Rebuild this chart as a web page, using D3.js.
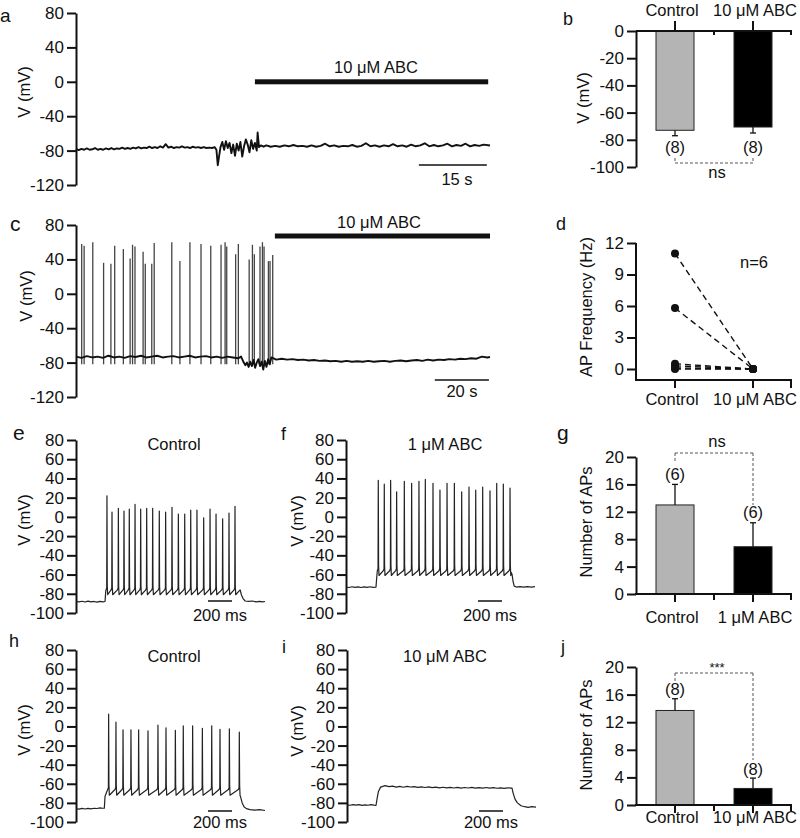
<!DOCTYPE html>
<html><head><meta charset="utf-8">
<script src="https://cdn.jsdelivr.net/npm/d3@7"></script>
<style>
body{margin:0;background:#fff}
svg{display:block}
text{font-family:"Liberation Sans",Arial,Helvetica,sans-serif;fill:#111}
</style>
</head><body>
<svg id="fig" width="800" height="838"></svg>
<script>
// ---------------- DATA ----------------
// Panel a: membrane potential (t in s, V in mV)
const aTrace = [[0,-78],[0.6,-79.5],[1.2,-78],[1.8,-79],[2.4,-77.5],[3,-79],[3.6,-78.5],[4.2,-77],[4.8,-79],[5.4,-78],[6,-79],[6.6,-77.5],[7.2,-78.5],[7.8,-77],[8.4,-78.5],[9,-77.5],[9.6,-78],[10.2,-76.5],[10.8,-78],[11.4,-77],[12,-78],[12.6,-76.5],[13.2,-77.5],[13.8,-76],[14.4,-77.5],[15,-76.5],[15.6,-77],[16.2,-75.5],[16.8,-77],[17.4,-76],[18,-77],[18.6,-75],[19.2,-76.5],[19.8,-72.5],[20.4,-76.5],[21,-75.5],[21.6,-77],[22.2,-76],[22.8,-76.5],[23.4,-75],[24,-76.5],[24.6,-76],[25.2,-77],[25.8,-75.5],[26.4,-76.5],[27,-76],[27.6,-77],[28.2,-76],[28.8,-77],[29.4,-76.5],[30,-77],[30.6,-76],[31,-79],[31.3,-97],[31.6,-86],[31.9,-76],[32.3,-70],[32.7,-79],[33.1,-69],[33.5,-77],[33.9,-71],[34.3,-83],[34.7,-73],[35.1,-86],[35.5,-72],[35.9,-80],[36.3,-70],[36.7,-87],[37.1,-75],[37.5,-67],[37.9,-73],[38.3,-82],[38.7,-68],[39.1,-78],[39.5,-71],[39.9,-80],[40.1,-59],[40.4,-76],[40.8,-74],[41.4,-75.5],[42,-74],[43,-75.5],[44,-74.5],[45,-75.5],[46,-74],[47,-75],[48,-73.5],[49,-75],[50,-74.5],[51,-75.5],[52,-74],[53,-75.5],[54,-74.5],[55,-72],[56,-75],[57,-74],[58,-75.5],[59,-74.5],[60,-75],[61,-73.5],[62,-75.5],[63,-74.5],[64,-71.5],[65,-75],[66,-74],[67,-75.5],[68,-74],[69,-75],[70,-72.5],[71,-75],[72,-74],[73,-75.5],[74,-73],[75,-75],[76,-74],[77,-71.5],[78,-75],[79,-73.5],[80,-75],[81,-74],[82,-72],[83,-75],[84,-73.5],[85,-74.5],[86,-72],[87,-75],[88,-73.5],[89,-74.5],[90,-73],[91.4,-74]];
const aDrug = [39.5, 91.0];
const aScaleBar = [75.7, 90.7];

// Panel c: baseline (t in s) and spikes
const cBase = [[0,-73],[2,-74.5],[4,-72.5],[6,-74],[8,-73],[10,-74.5],[12,-72],[14,-74],[16,-73],[18,-74.5],[20,-72.5],[22,-73.5],[24,-72],[26,-74],[28,-73],[30,-72],[32,-74],[34,-73],[36,-72.5],[38,-74],[40,-73],[42,-72],[44,-74],[46,-73],[48,-72.5],[50,-74],[52,-73],[54,-74.5],[56,-73],[58,-74],[60,-75],[61,-73],[62,-80],[62.6,-83],[63.2,-80],[63.8,-85],[64.4,-79],[65,-84],[65.6,-77],[66.2,-86],[66.8,-80],[67.4,-76],[68,-84],[68.6,-79],[69.2,-88],[69.8,-78],[70.4,-85],[71,-76],[71.6,-82],[72.2,-74],[73,-75],[74,-76.5],[76,-75.5],[78,-76.5],[80,-76],[82,-77],[84,-76.5],[86,-77.5],[88,-77],[90,-78],[92,-77.5],[94,-78.5],[96,-78],[98,-79],[100,-78],[102,-79],[104,-78.5],[106,-79],[108,-78],[110,-79],[112,-78.5],[114,-78],[116,-79],[118,-78],[120,-77.5],[122,-78.5],[124,-77.5],[126,-77],[128,-78],[130,-76.5],[132,-77.5],[134,-76.5],[136,-77],[138,-76],[140,-76.5],[142,-75.5],[144,-76],[146,-75],[148,-75.5],[150,-73],[152,-74],[153,-73.5]];
const cSpikeT = [2.1,3.0,6.2,10.2,12.9,14.3,17.5,20.0,20.9,21.8,24.8,25.6,28.0,28.9,35.4,38.4,42.1,46.2,49.8,53.6,55.1,55.7,59.0,60.0,64.0,65.2,65.9,68.0,68.9,69.5,71.1,71.7,72.7];
const cSpikeV = [58,56,60,36,35,56,52,41,57,55,49,35,35,59,60,38,60,58,56,57,60,55,46,58,40,57,46,55,60,55,38,38,45];
const cTrough = -82;
const cDrug = [73.5, 153];
const cScaleBar = [132.6, 152.6];

// Panel e: Control evoked firing (t in ms)
const ePre = [[0,-88],[25,-88.5],[50,-87.8],[75,-88.6],[100,-87.7],[125,-88.4],[150,-88],[175,-88.7],[200,-87.9],[225,-88.5],[242,-88]];
const eStepOn = 242;
const eSpikeT = [258,300,353,400,444,492,539,589,639,694,747,800,853,906,956,1008,1064,1117,1167,1222,1275,1325];
const eSpikeV = [22,5,9,6,8,13,8,9,9,6,5,10,3,3,7,7,-1,8,3,-2,4,11];
const eLevels = {onV:-77, thr:-74, sh:-72, tr:-81};
const ePost = [[1360,-77],[1368,-76],[1378,-81],[1392,-85],[1410,-87.5],[1440,-88],[1470,-87.5],[1500,-88.5],[1530,-88],[1555,-88.5],[1575,-88]];

// Panel f: 1 uM ABC
const fPre = [[0,-73],[25,-73.5],[50,-72.7],[75,-73.4],[100,-72.8],[125,-73.5],[150,-72.9],[175,-73.4],[200,-72.7],[225,-73.3],[250,-73]];
const fStepOn = 250;
const fSpikeT = [269,319,372,422,486,547,608,661,725,783,842,903,964,1025,1081,1139,1200,1256,1311,1367];
const fSpikeV = [38,34,38,26,37,35,37,39,35,28,35,35,26,31,28,31,27,35,34,30];
const fLevels = {onV:-63, thr:-54, sh:-50, tr:-61};
const fPost = [[1378,-58],[1384,-60],[1392,-67],[1402,-72],[1420,-73],[1450,-72.5],[1480,-73],[1510,-72.5],[1545,-73],[1575,-72.5]];

// Panel h: Control evoked firing
const hPre = [[0,-86],[25,-86.5],[50,-85.8],[75,-86.4],[100,-85.7],[125,-86.2],[150,-85.6],[175,-85.9],[200,-85.3],[220,-85.6],[236,-85.5]];
const hStepOn = 236;
const hSpikeT = [272,333,392,458,522,600,683,750,828,894,972,1053,1131,1200,1278,1361];
const hSpikeV = [13,4.5,-3.5,-3.5,-3.5,-4.5,1.5,-1.5,-4,0.5,0.5,-2,0.5,-3,-2.5,-6];
const hLevels = {onV:-73, thr:-64, sh:-61, tr:-72};
const hPost = [[1372,-74],[1385,-80],[1400,-84],[1420,-86],[1450,-87],[1490,-87.5],[1530,-87],[1575,-88]];

// Panel i: 10 uM ABC (no spikes)
const iTrace = [[0,-82],[25,-82.5],[50,-81.8],[75,-82.4],[100,-81.9],[125,-82.6],[150,-82],[175,-82.5],[200,-81.8],[225,-82.4],[242,-82.5],[250,-76],[262,-68],[280,-63.5],[317,-62],[350,-63],[380,-62.5],[410,-63.5],[440,-62.8],[470,-63.6],[500,-62.7],[530,-63.4],[560,-63],[590,-63.8],[620,-63.2],[650,-63.9],[680,-63.3],[710,-64],[740,-63.5],[770,-64.3],[800,-63.6],[830,-64.2],[860,-63.7],[890,-64.4],[920,-63.8],[950,-64.5],[980,-63.9],[1010,-64.4],[1040,-63.8],[1070,-64.6],[1100,-64],[1130,-64.5],[1160,-63.9],[1190,-64.6],[1220,-64.1],[1250,-64.7],[1280,-64.2],[1310,-64.8],[1340,-64.3],[1375,-64.5],[1385,-70],[1400,-76],[1420,-80],[1450,-83],[1480,-84],[1510,-84.6],[1540,-84],[1575,-84.5]];
const msScaleBar = [1100, 1300];

// Bar panels
const bCats = ["Control", "10 \u03bcM ABC"];
const bMeans = [-73, -70.6];
const bErrEnd = [-77, -75];
const bN = ["(8)", "(8)"];

const dCats = ["Control", "10 \u03bcM ABC"];
const dControl = [11, 5.8, 0.5, 0.3, 0.1, 0];
const dDrug = [0, 0, 0, 0, 0, 0];

const gCats = ["Control", "1 \u03bcM ABC"];
const gMeans = [13, 6.9];
const gErrEnd = [16, 10.4];
const gN = ["(6)", "(6)"];

const jCats = ["Control", "10 \u03bcM ABC"];
const jMeans = [13.7, 2.4];
const jErrEnd = [15.4, 3.9];
const jN = ["(8)", "(8)"];

const traceTicksA = [-120,-80,-40,0,40,80];
const traceTicksE = [-100,-80,-60,-40,-20,0,20,40,60,80];
const bTicks = [-100,-80,-60,-40,-20,0];
const dTicks = [0,3,6,9,12];
const gTicks = [0,4,8,12,16,20];

// ---------------- DRAWING ----------------
const svg = d3.select("#fig");
const FONT = '"Liberation Sans", Arial, Helvetica, sans-serif';
const INK = "#111";

function txt(x, y, s, size, anchor) {
  return svg.append("text").attr("x", x).attr("y", y).text(s)
    .attr("font-size", size || 16.5).attr("text-anchor", anchor || "middle");
}
function vlabel(cx, cy, s) {
  svg.append("text").attr("transform", `translate(${cx},${cy}) rotate(-90)`)
    .attr("text-anchor", "middle").attr("dy", "0.35em").attr("font-size", 16.5).text(s);
}
function yAxis(x, scale, ticks, noDomain) {
  const g = svg.append("g").attr("transform", `translate(${x},0)`)
    .call(d3.axisLeft(scale).tickValues(ticks).tickSize(9).tickSizeOuter(0).tickPadding(3).tickFormat(d => String(d)));
  g.attr("font-family", FONT).attr("font-size", 17);
  g.select(".domain").attr("stroke-width", 2).attr("stroke", INK);
  if (noDomain) g.select(".domain").remove();
  g.selectAll(".tick line").attr("stroke-width", 2).attr("stroke", INK);
  g.selectAll(".tick text").attr("fill", INK);
  return g;
}
function line(x1, y1, x2, y2, w, color, dash) {
  const l = svg.append("line").attr("x1", x1).attr("y1", y1).attr("x2", x2).attr("y2", y2)
    .attr("stroke", color || INK).attr("stroke-width", w || 1.5);
  if (dash) l.attr("stroke-dasharray", dash);
  return l;
}
function path(pts, xs, ys, w, color) {
  svg.append("path").attr("d", d3.line().x(d => xs(d[0])).y(d => ys(d[1]))(pts))
    .attr("fill", "none").attr("stroke", color || INK).attr("stroke-width", w)
    .attr("stroke-linejoin", "round");
}
function evoked(pre, on, T, V, L, post) {
  const pts = pre.slice();
  pts.push([on + 6, L.onV]);
  T.forEach((t, i) => {
    pts.push([t - 8, L.thr - 2]);
    pts.push([t - 2, L.thr]);
    pts.push([t, V[i]]);
    pts.push([t + 2.5, L.sh]);
    pts.push([t + 6, L.tr]);
  });
  return pts.concat(post);
}

// ---- Panel a ----
{
  const x = d3.scaleLinear().domain([0, 91.4]).range([76, 490]);
  const y = d3.scaleLinear().domain([-120, 80]).range([185, 13]);
  yAxis(76, y, traceTicksA);
  path(aTrace, x, y, 1.9);
  svg.append("rect").attr("x", x(aDrug[0])).attr("y", y(0) - 2.5).attr("width", x(aDrug[1]) - x(aDrug[0])).attr("height", 5).attr("fill", INK);
  txt(376, 73, "10 \u03bcM ABC");
  line(x(aScaleBar[0]), 165, x(aScaleBar[1]), 165, 1.5);
  txt(457, 185, "15 s");
  vlabel(24, 92, "V (mV)");
  txt(0, 22, "a", 19, "start");
}

// ---- Panel c ----
{
  const x = d3.scaleLinear().domain([0, 153]).range([76, 490]);
  const y = d3.scaleLinear().domain([-120, 80]).range([397, 225]);
  yAxis(76, y, traceTicksA);
  cSpikeT.forEach((t, i) => line(x(t), y(cTrough), x(t), y(cSpikeV[i]), 1.3, "#444"));
  path(cBase, x, y, 1.9);
  svg.append("rect").attr("x", x(cDrug[0])).attr("y", 236 - 2.5).attr("width", x(cDrug[1]) - x(cDrug[0])).attr("height", 5).attr("fill", INK);
  txt(379, 228, "10 \u03bcM ABC");
  line(x(cScaleBar[0]), 380, x(cScaleBar[1]), 380, 1.5);
  txt(462, 397, "20 s");
  vlabel(26, 296, "V (mV)");
  txt(10, 231, "c", 21, "start");
}

// ---- Evoked panels e, f, h, i ----
function evokedPanel(ax, top, bottom, pts, title, titleX, titleY, sbY, sbTextY, labX, labY) {
  const x = d3.scaleLinear().domain([0, 1575]).range([ax, ax + 189]);
  const y = d3.scaleLinear().domain([-100, 80]).range([bottom, top]);
  yAxis(ax, y, traceTicksE);
  path(pts, x, y, 1.2, "#222");
  txt(titleX, titleY, title);
  line(x(msScaleBar[0]), sbY, x(msScaleBar[1]), sbY, 1.5);
  txt((x(msScaleBar[0]) + x(msScaleBar[1])) / 2, sbTextY, "200 ms");
  vlabel(labX, labY, "V (mV)");
}
evokedPanel(76, 440, 613, evoked(ePre, eStepOn, eSpikeT, eSpikeV, eLevels, ePost), "Control", 174, 450, 601, 621, 24, 520);
evokedPanel(346, 440, 613, evoked(fPre, fStepOn, fSpikeT, fSpikeV, fLevels, fPost), "1 \u03bcM ABC", 445, 450, 601, 621, 297, 521);
evokedPanel(76, 650, 822, evoked(hPre, hStepOn, hSpikeT, hSpikeV, hLevels, hPost), "Control", 174, 662, 811, 828, 24, 730);
evokedPanel(347, 650, 822, iTrace, "10 \u03bcM ABC", 445, 662, 811, 828, 297, 731);
txt(13, 440, "e", 21, "start");
txt(281, 440, "f", 18, "start");
txt(9, 647, "h", 18, "start");
txt(282, 653, "i", 18, "start");

// ---- Panel b ----
{
  const x = d3.scalePoint().domain(bCats).range([675, 753]);
  const y = d3.scaleLinear().domain([-100, 0]).range([167, 31]);
  const bw = 38;
  const fills = ["#b4b4b4", "#000"];
  bCats.forEach((c, i) => {
    svg.append("rect").attr("x", x(c) - bw / 2).attr("y", y(0)).attr("width", bw).attr("height", y(bMeans[i]) - y(0))
      .attr("fill", fills[i]).attr("stroke", "#222").attr("stroke-width", 1);
    line(x(c), y(bMeans[i]), x(c), y(bErrEnd[i]), 1.3);
    line(x(c) - 3, y(bErrEnd[i]), x(c) + 3, y(bErrEnd[i]), 1.3);
    txt(x(c), 153, bN[i]);
    line(x(c), y(0), x(c), y(0) - 10, 2);
    txt(x(c) + (i ? 2 : -3), 16, c);
  });
  yAxis(636, y, bTicks);
  line(636, y(0), 792, y(0), 2);
  line(714, y(0), 714, y(0) + 4, 2);
  line(791, y(0), 791, y(0) + 4, 2);
  // ns bracket
  line(x(bCats[0]), 163, x(bCats[1]), 163, 1, "#555", "3,2");
  line(x(bCats[0]), 158, x(bCats[0]), 163, 1, "#555", "3,2");
  line(x(bCats[1]), 158, x(bCats[1]), 163, 1, "#555", "3,2");
  txt(717, 178, "ns");
  vlabel(583, 98, "V (mV)");
  txt(563, 25, "b", 18, "start");
}

// ---- Panel d ----
{
  const x = d3.scalePoint().domain(dCats).range([675, 753]);
  const y = d3.scaleLinear().domain([0, 12]).range([369, 243]);
  yAxis(636, y, dTicks, true);
  line(636, 243, 636, 381, 2);
  line(635, 380, 792, 380, 2);
  [x(dCats[0]), x(dCats[1]), 791].forEach(p => line(p, 380, p, 388, 2));
  dControl.forEach((v, i) => {
    line(x(dCats[0]), y(v), x(dCats[1]), y(dDrug[i]), 1.4, "#111", "6,4");
  });
  dControl.forEach(v => svg.append("circle").attr("cx", x(dCats[0])).attr("cy", y(v)).attr("r", 4).attr("fill", INK));
  dDrug.forEach(v => svg.append("circle").attr("cx", x(dCats[1])).attr("cy", y(v)).attr("r", 4).attr("fill", INK));
  dCats.forEach((c, i) => txt(x(c) + (i ? 2 : -3), 405, c));
  txt(740, 268, "n=6", 16.5, "start");
  vlabel(586, 307, "AP Frequency (Hz)");
  txt(556, 230, "d", 18, "start");
}

// ---- Panels g, j ----
function countPanel(cats, means, errs, ns, y0, y20, nY, brY, brL, brR, sigText, sigY, catY, labY, letter, letY, letSize) {
  const x = d3.scalePoint().domain(cats).range([675, 753]);
  const y = d3.scaleLinear().domain([0, 20]).range([y0, y20]);
  const bw = 38;
  const fills = ["#b4b4b4", "#000"];
  cats.forEach((c, i) => {
    svg.append("rect").attr("x", x(c) - bw / 2).attr("y", y(means[i])).attr("width", bw).attr("height", y(0) - y(means[i]))
      .attr("fill", fills[i]).attr("stroke", "#222").attr("stroke-width", 1);
    line(x(c), y(means[i]), x(c), y(errs[i]), 1.3);
    line(x(c) - 3, y(errs[i]), x(c) + 3, y(errs[i]), 1.3);
    txt(x(c), nY[i], ns[i]);
    line(x(c), y(0), x(c), y(0) + 8, 2);
    txt(x(c) + (i ? 2 : -3), catY, c);
  });
  yAxis(636, y, gTicks);
  line(635, y(0), 792, y(0), 2);
  line(714, y(0), 714, y(0) + 6, 2);
  line(791, y(0), 791, y(0) + 6, 2);
  line(x(cats[0]), brY, x(cats[1]), brY, 1, "#555", "3,2");
  line(x(cats[0]), brY, x(cats[0]), brL, 1, "#555", "3,2");
  line(x(cats[1]), brY, x(cats[1]), brR, 1, "#555", "3,2");
  txt(717, sigY, sigText, sigText === "ns" ? 16.5 : 13);
  vlabel(586, labY, "Number of APs");
  txt(letter === "g" ? 557 : 561, letY, letter, letSize, "start");
}
countPanel(gCats, gMeans, gErrEnd, gN, 594, 457, [480, 518], 453, 463, 505, "ns", 447, 623, 522, "g", 440, 21);
countPanel(jCats, jMeans, jErrEnd, jN, 805, 667, [695, 775], 673, 682, 760, "***", 672, 823, 735, "j", 653, 18);
</script>
</body></html>
